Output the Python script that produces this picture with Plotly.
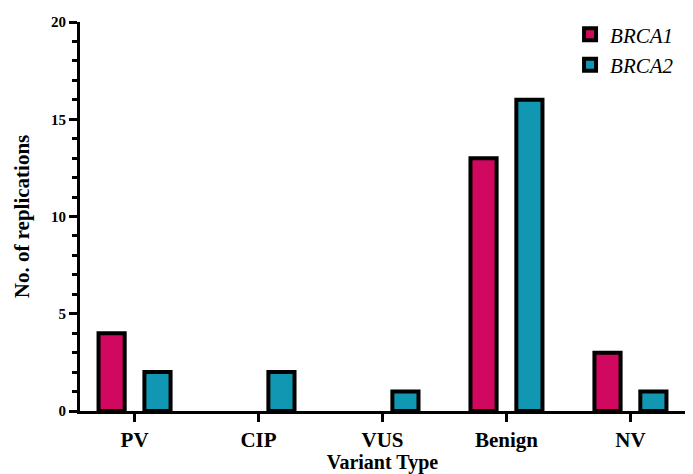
import plotly.graph_objects as go

categories = ["PV", "CIP", "VUS", "Benign", "NV"]
brca1 = [4, 0, 0, 13, 3]
brca2 = [2, 2, 1, 16, 1]
series_names = ["BRCA1", "BRCA2"]
y_ticks = [0, 5, 10, 15, 20]

FONT = "Liberation Serif, Times New Roman, serif"
C1 = "#D0085F"
C2 = "#1297B2"


def edge_widths(vals, w=4):
    return [w if v > 0 else 0 for v in vals]


fig = go.Figure()
fig.add_trace(go.Bar(x=categories, y=brca1, name="<i>" + series_names[0] + "</i>",
                     marker=dict(color=C1, line=dict(color="black", width=edge_widths(brca1)))))
fig.add_trace(go.Bar(x=categories, y=brca2, name="<i>" + series_names[1] + "</i>",
                     marker=dict(color=C2, line=dict(color="black", width=edge_widths(brca2)))))

fig.update_layout(
    width=693, height=474,
    margin=dict(l=80, r=8, t=22, b=63, autoexpand=False),
    paper_bgcolor="white", plot_bgcolor="white",
    barmode="group", bargap=0.26, bargroupgap=0.43,
    font=dict(family=FONT, color="black"),
    legend=dict(x=0.81, y=1.02, xanchor="left", yanchor="top",
                font=dict(family=FONT, size=21, color="black"),
                tracegroupgap=0, bgcolor="rgba(0,0,0,0)"),
    xaxis=dict(
        range=[-0.44, 4.44], automargin=False,
        showline=True, linecolor="black", linewidth=3,
        ticks="outside", ticklen=8, tickwidth=3, tickcolor="black",
        tickfont=dict(family=FONT, size=21, weight="bold"),
        title=dict(text="Variant Type", font=dict(family=FONT, size=20, weight="bold"), standoff=5),
        showgrid=False, zeroline=False,
    ),
    yaxis=dict(
        range=[0, 20], automargin=False,
        tickvals=y_ticks,
        showline=True, linecolor="black", linewidth=3,
        ticks="outside", ticklen=8, tickwidth=3, tickcolor="black",
        minor=dict(dtick=1, ticks="outside", ticklen=5, tickwidth=2.5, tickcolor="black"),
        tickfont=dict(family=FONT, size=15, weight="bold"),
        title=dict(text="No. of replications", font=dict(family=FONT, size=21, weight="bold"), standoff=16),
        showgrid=False, zeroline=False,
    ),
)

fig.write_html("out.html", config={"displayModeBar": False},
               post_script="document.body.style.margin='0';")
